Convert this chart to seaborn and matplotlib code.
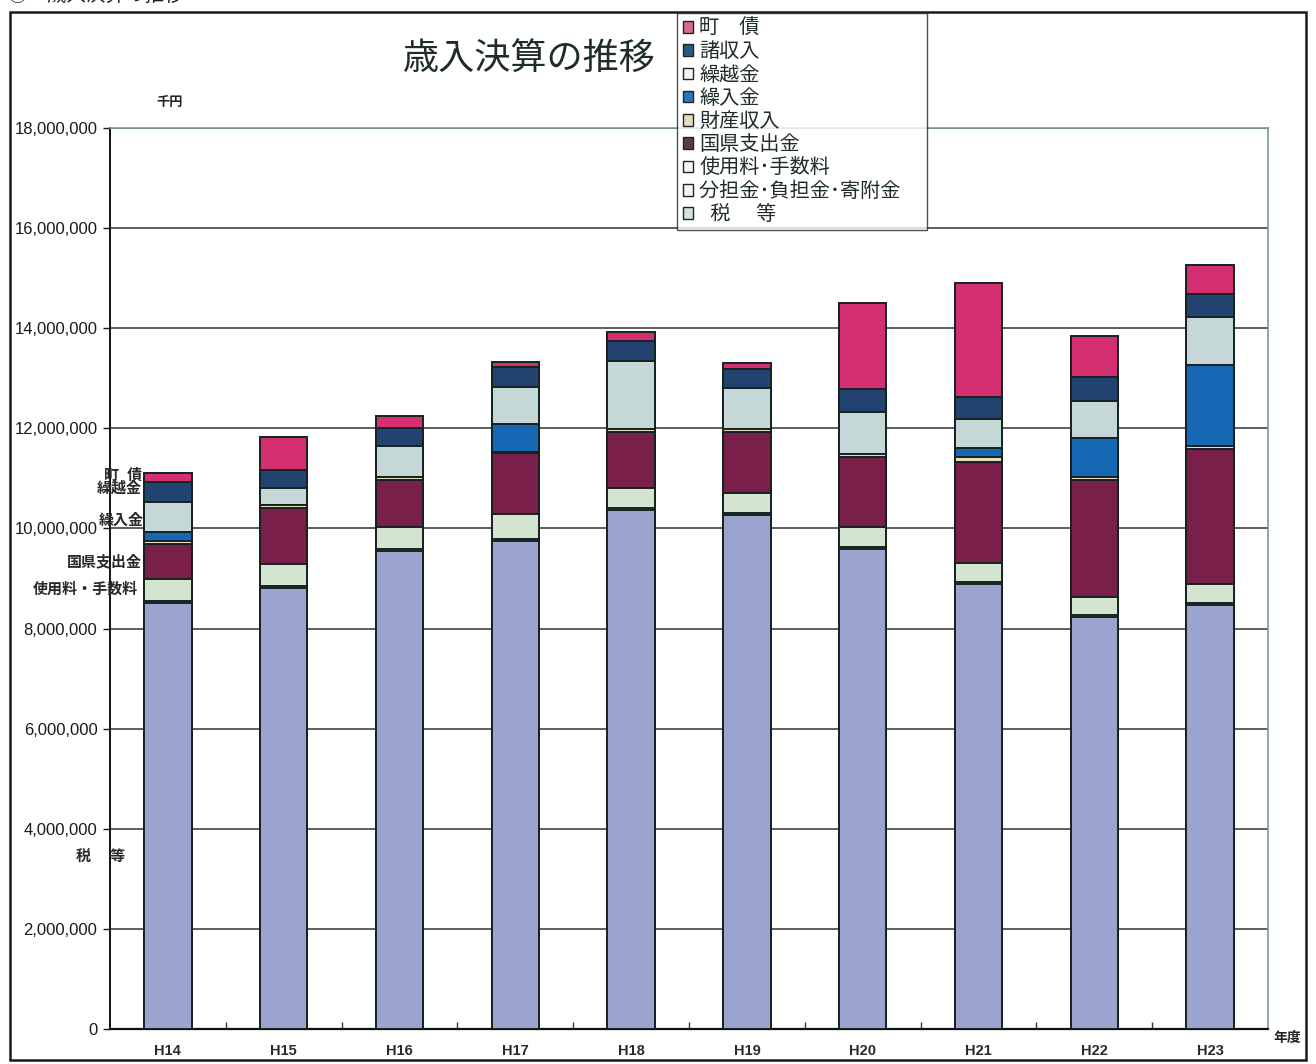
import matplotlib
matplotlib.use("Agg")
import matplotlib.pyplot as plt
from matplotlib.patches import Patch, Rectangle
from matplotlib.ticker import FuncFormatter, MultipleLocator, FixedLocator
import numpy as np
import pandas as pd
import seaborn as sns

# 年度
years = ["H14", "H15", "H16", "H17", "H18", "H19", "H20", "H21", "H22", "H23"]

# 歳入の内訳（千円）
tax = [8510000, 8810000, 9550000, 9750000, 10370000, 10270000, 9590000, 8890000, 8230000, 8470000]
contributions = [40000, 40000, 40000, 40000, 40000, 40000, 40000, 40000, 40000, 40000]
fees = [440000, 440000, 440000, 500000, 400000, 400000, 400000, 380000, 360000, 380000]
subsidies = [700000, 1120000, 940000, 1220000, 1120000, 1220000, 1400000, 2020000, 2340000, 2700000]
property_income = [60000, 60000, 60000, 20000, 60000, 60000, 60000, 100000, 60000, 60000]
transfers = [180000, 0, 0, 560000, 0, 0, 0, 180000, 780000, 1620000]
carryover = [600000, 340000, 620000, 740000, 1360000, 820000, 840000, 580000, 740000, 950000]
misc_income = [400000, 360000, 360000, 400000, 390000, 380000, 460000, 440000, 480000, 460000]
town_bonds = [180000, 660000, 240000, 100000, 180000, 120000, 1710000, 2270000, 810000, 580000]

# 積み上げ順（下から）
series_names = ["税　等", "分担金・負担金・寄附金", "使用料・手数料", "国県支出金", "財産収入",
                "繰入金", "繰越金", "諸収入", "町　債"]
series_values = [tax, contributions, fees, subsidies, property_income,
                 transfers, carryover, misc_income, town_bonds]
series_colors = ["#9aa4cf", "#e6efe4", "#d3e4d0", "#7a1e4a", "#e6dcc0",
                 "#1668b5", "#c6d7d8", "#22426f", "#d42f70"]

legend_labels = ["町　債", "諸収入", "繰越金", "繰入金", "財産収入", "国県支出金",
                 "使用料･手数料", "分担金･負担金･寄附金　", "  税　 等"]
legend_colors = ["#d86a8e", "#2a5a80", "#f4f6f4", "#2a78b8", "#e8dcc0", "#5a3b48",
                 "#f4f6f4", "#f4f6f4", "#cfe4e0"]

sns.set_theme(style="white")
plt.rcParams["font.family"] = ["Liberation Sans", "Noto Sans CJK JP", "DejaVu Sans"]

df = pd.DataFrame({name: vals for name, vals in zip(series_names, series_values)}, index=years)
cum = df.cumsum(axis=1)

fig = plt.figure(figsize=(13.16, 10.64), dpi=100)
fig.patch.set_facecolor("white")
ax = fig.add_axes([110 / 1316, 35 / 1064, 1158 / 1316, 901 / 1064])

ax.set_ylim(0, 18000000)
ax.yaxis.set_major_locator(MultipleLocator(2000000))
ax.grid(axis="y", color="#2e3532", linewidth=1.1)
ax.set_axisbelow(True)

# 上の系列から順に累積値で重ねて描画
for name, color in reversed(list(zip(series_names, series_colors))):
    sns.barplot(x=years, y=cum[name].values, color=color, width=0.41,
                edgecolor="#15231f", linewidth=1.4, ax=ax, saturation=1.0, zorder=3)

ax.set_xlim(-0.5, len(years) - 0.5)
ax.set_xlabel("")
ax.set_ylabel("")

ax.yaxis.set_major_formatter(FuncFormatter(lambda v, p: f"{int(v):,}"))
ax.tick_params(axis="y", labelsize=12, colors="#1a1a1a", length=5, direction="out", width=1,
               left=True, pad=4)
ax.tick_params(axis="x", labelsize=10.5, colors="#1a1a1a", length=0, pad=11)
ax.xaxis.set_minor_locator(FixedLocator(np.arange(0.5, len(years) - 0.5, 1.0)))
ax.tick_params(axis="x", which="minor", length=5, direction="in", bottom=True, color="#333333")

for lab in ax.get_xticklabels():
    lab.set_fontweight("bold")
    lab.set_color("#2a2a2a")

ax.spines["left"].set_color("#111111")
ax.spines["left"].set_linewidth(1.4)
ax.spines["bottom"].set_color("#111111")
ax.spines["bottom"].set_linewidth(1.6)
ax.spines["top"].set_color("#7f9a8c")
ax.spines["top"].set_linewidth(1.2)
ax.spines["right"].set_color("#7f9a8c")
ax.spines["right"].set_linewidth(1.2)

# 左側の系列名
left_labels = [("町  債", 11060000, -0.225), ("繰越金", 10790000, -0.225),
               ("繰入金", 10150000, -0.205), ("国県支出金", 9330000, -0.225),
               ("使用料・手数料", 8790000, -0.255), ("税　 等", 3440000, -0.37)]
for text, yv, xv in left_labels:
    ax.text(xv, yv, text, ha="right", va="center", fontsize=10.8, fontweight="bold",
            color="#2a2a2a", zorder=5)

# 表題と単位
fig.text(529 / 1316, 1 - 59 / 1064, "歳入決算の推移", ha="center", va="center",
         fontsize=26, color="#1f2d28")
fig.text(170 / 1316, 1 - 103 / 1064, "千円", ha="center", va="center",
         fontsize=9.5, fontweight="bold", color="#222222")
fig.text(1287 / 1316, 1 - 1038 / 1064, "年度", ha="center", va="center",
         fontsize=10, fontweight="bold", color="#222222")
fig.text(8 / 1316, 1 + 4 / 1064, "③　歳入決算の推移", ha="left", va="center",
         fontsize=14, color="#222222")

# 凡例
handles = [Patch(facecolor=c, edgecolor="#222222", linewidth=1.0) for c in legend_colors]
leg = fig.legend(handles, legend_labels, loc="upper left",
                 bbox_to_anchor=(677 / 1316, 1 - 13 / 1064),
                 fontsize=14.5, frameon=True, fancybox=False, shadow=False,
                 handlelength=0.5, handleheight=0.5, handletextpad=0.3,
                 labelspacing=0.21, borderpad=0.3, borderaxespad=0)
leg.get_frame().set_edgecolor("#222222")
leg.get_frame().set_linewidth(1.0)
for t in leg.get_texts():
    t.set_color("#1f2d28")

# 外枠
fig.add_artist(Rectangle((10 / 1316, 4 / 1064), 1296 / 1316, 1048 / 1064,
                         transform=fig.transFigure, fill=False,
                         edgecolor="#1a1a1a", linewidth=1.8))

fig.savefig("out.png", dpi=100, facecolor="white")
